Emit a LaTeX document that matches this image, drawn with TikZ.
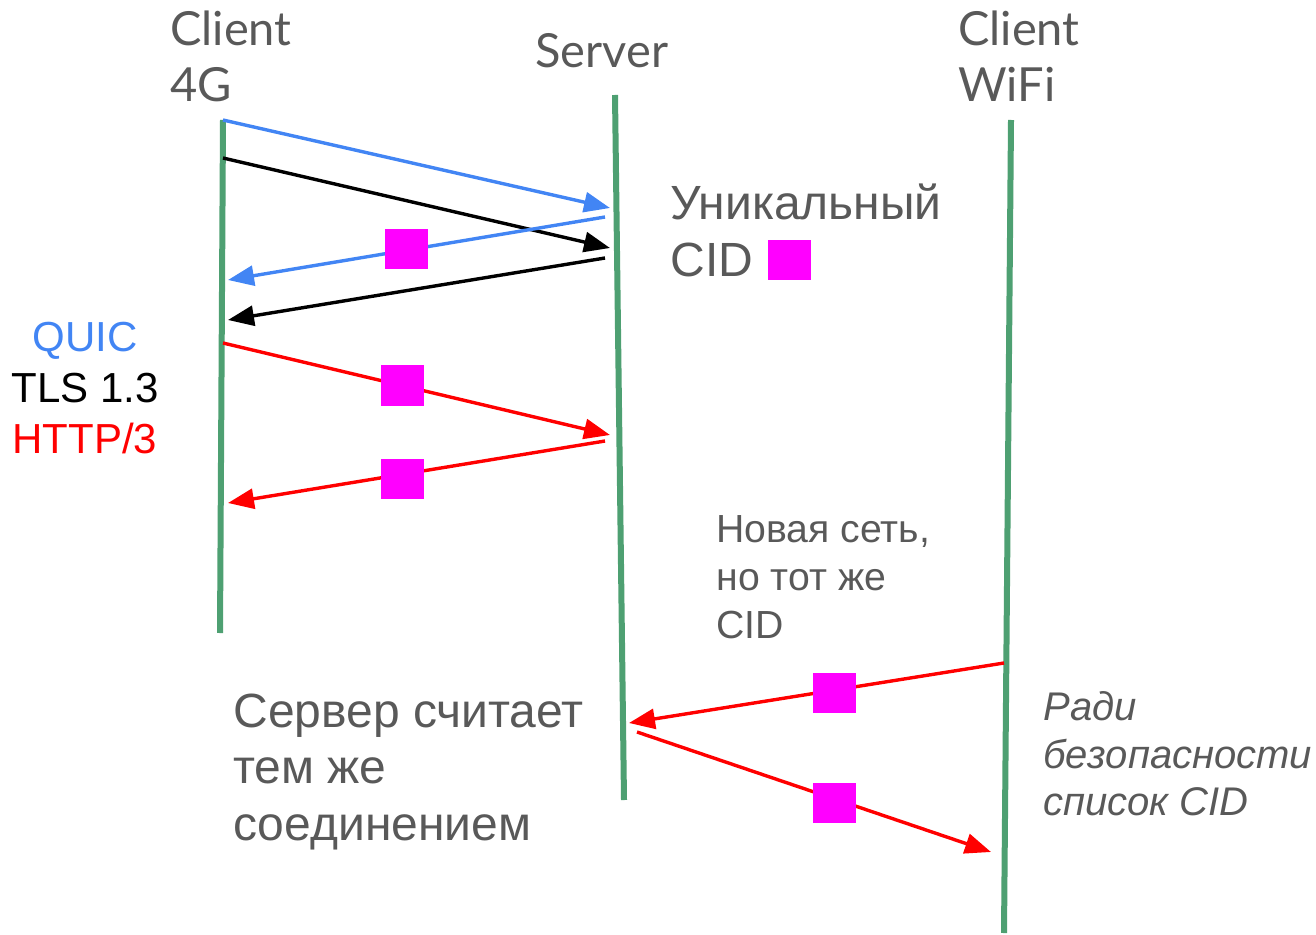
\documentclass[tikz,border=0pt]{standalone}
\usepackage{fontspec}
\setmainfont{Liberation Sans}
\newfontfamily\headfont{Lato}
\usetikzlibrary{arrows.meta}
\definecolor{lifegreen}{RGB}{78,160,114}
\definecolor{quicblue}{RGB}{66,133,244}
\definecolor{cidmag}{RGB}{255,0,255}
\definecolor{txtgray}{RGB}{89,89,89}
\begin{document}
\begin{tikzpicture}[x=0.5pt,y=-0.5pt,
  lifeline/.style={draw=lifegreen, line width=3pt},
  msg/.style={line width=1.7pt, -{Triangle[length=13pt,width=10pt]}},
  cidbox/.style={fill=cidmag, minimum width=21.5pt, minimum height=20pt, inner sep=0pt},
  lbl/.style={anchor=base west, inner sep=0pt, text=txtgray},
  headlbl/.style={lbl, font=\headfont\fontsize{23.5pt}{28pt}\selectfont},
  biglbl/.style={lbl, font=\fontsize{24pt}{28pt}\selectfont},
  midlbl/.style={lbl, font=\fontsize{19.6pt}{24pt}\selectfont},
  notelbl/.style={lbl, font=\itshape\fontsize{20pt}{24pt}\selectfont},
  protolbl/.style={anchor=base, inner sep=0pt, font=\fontsize{21pt}{25pt}\selectfont}]
\useasboundingbox (0,0) rectangle (1316,935);

% lifelines
\coordinate (c4top) at (223,120);  \coordinate (c4bot) at (220,633);
\coordinate (srvtop) at (615,95);  \coordinate (srvbot) at (624,800);
\coordinate (wftop) at (1011,120); \coordinate (wfbot) at (1004,933);
\draw[lifeline] (c4top) -- (c4bot);
\draw[lifeline] (srvtop) -- (srvbot);
\draw[lifeline] (wftop) -- (wfbot);

% headers
\node[headlbl] (h4a) at (170,46) {Client};
\node[headlbl] (h4b) at (170,102) {4G};
\node[headlbl] (hsrv) at (535,68) {Server};
\node[headlbl] (hwfa) at (958,46) {Client};
\node[headlbl] (hwfb) at (958,102) {WiFi};

% message end points
\coordinate (b1s) at (223,120); \coordinate (b1e) at (610,208);
\coordinate (k1s) at (223,158); \coordinate (k1e) at (610,248);
\coordinate (b2s) at (605,217); \coordinate (b2e) at (228,280);
\coordinate (k2s) at (605,258); \coordinate (k2e) at (228,320);
\coordinate (r1s) at (223,343); \coordinate (r1e) at (610,435);
\coordinate (r2s) at (605,441); \coordinate (r2e) at (228,503);
\coordinate (r3s) at (1004,663); \coordinate (r3e) at (629,723);
\coordinate (r4s) at (637,732); \coordinate (r4e) at (991,852);

% handshake and data messages
\draw[msg, quicblue] (b1s) -- (b1e);
\draw[msg, black] (k1s) -- (k1e);
\draw[msg, quicblue] (b2s) -- (b2e);
\draw[msg, black] (k2s) -- (k2e);
\draw[msg, red] (r1s) -- (r1e);
\draw[msg, red] (r2s) -- (r2e);
\draw[msg, red] (r3s) -- (r3e);
\draw[msg, red] (r4s) -- (r4e);

% connection id markers
\node[cidbox] (cid1) at (406.5,249) {};
\node[cidbox] (cid2) at (402.5,385.5) {};
\node[cidbox] (cid3) at (402.5,479) {};
\node[cidbox] (cid4) at (834,693) {};
\node[cidbox] (cid5) at (834,803) {};
\node[cidbox] (cidkey) at (789,260.5) {};

% labels
\node[biglbl] (uniqa) at (670,220) {Уникальный};
\node[biglbl] (uniqb) at (670,277) {CID};

\node[protolbl, text=quicblue] (pquic) at (85,352) {QUIC};
\node[protolbl, text=black] (ptls) at (85,402) {TLS 1.3};
\node[protolbl, text=red] (phttp) at (85,453) {HTTP/3};

\node[midlbl] (neta) at (716,542) {Новая сеть,};
\node[midlbl] (netb) at (716,590) {но тот же};
\node[midlbl] (netc) at (716,638) {CID};

\node[biglbl] (sama) at (233,727) {Сервер считает};
\node[biglbl] (samb) at (233,783) {тем же};
\node[biglbl] (samc) at (233,840) {соединением};

\node[notelbl] (seca) at (1043,720) {Ради};
\node[notelbl] (secb) at (1043,768) {безопасности};
\node[notelbl] (secc) at (1043,815) {список CID};
\end{tikzpicture}
\end{document}
